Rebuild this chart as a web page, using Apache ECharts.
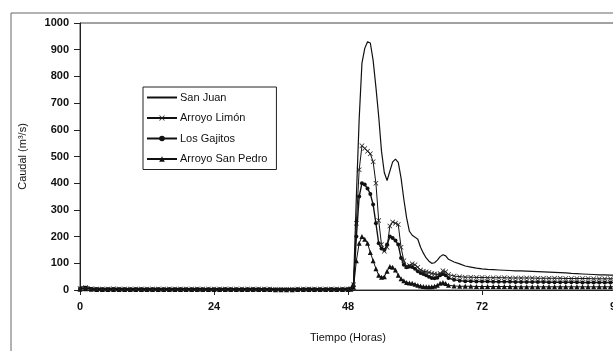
<!DOCTYPE html>
<html>
<head>
<meta charset="utf-8">
<script src="https://cdn.jsdelivr.net/npm/echarts@6/dist/echarts.min.js"></script>
<style>
  html, body { margin: 0; padding: 0; background: #fff; }
  #chart { width: 613px; height: 351px; }
</style>
</head>
<body>
<div id="chart"></div>
<script>
// time (hours)
const horas = [
  0, 1, 2, 3, 4, 5, 6, 7, 8, 9, 10, 11, 12, 13, 14, 15, 16, 17, 18, 19, 20, 21, 22, 23, 24,
  25, 26, 27, 28, 29, 30, 31, 32, 33, 34, 35, 36, 37, 38, 39, 40, 41, 42, 43, 44, 45, 46, 47, 48,
  48.5, 49, 49.5, 50, 50.5, 51, 51.5, 52, 52.5, 53, 53.5, 54, 54.5, 55, 55.5, 56, 56.5, 57, 57.5,
  58, 58.5, 59, 59.5, 60, 60.5, 61, 61.5, 62, 62.5, 63, 63.5, 64, 64.5, 65, 65.5, 66,
  67, 68, 69, 70, 71, 72, 73, 74, 75, 76, 77, 78, 79, 80, 81, 82, 83, 84, 85, 86, 87, 88, 89, 90,
  91, 92, 93, 94, 95, 96
];

const sanJuan = [
  10, 14, 8, 7, 6, 6, 7, 6, 6, 5, 6, 6, 5, 6, 6, 5, 6, 5, 6, 5, 5, 6, 5, 5, 5,
  5, 6, 5, 5, 5, 5, 6, 5, 5, 5, 4, 5, 5, 5, 5, 5, 6, 5, 5, 5, 6, 5, 6, 6,
  8, 30, 350, 640, 850, 905, 930, 925, 860, 760, 650, 520, 440, 410, 445, 480, 490, 478, 420,
  340, 270, 220, 205, 198, 190, 160, 138, 120, 108, 100, 102, 112, 125, 132, 128, 115,
  105, 98, 90, 86, 82, 79, 77, 76, 75, 74, 73, 72, 72, 71, 70, 69, 68, 67, 66, 65, 64, 62, 61, 60,
  59, 58, 57, 57, 56, 55
];

const arroyoLimon = [
  6, 9, 5, 4, 4, 4, 5, 4, 4, 4, 4, 4, 4, 4, 4, 4, 4, 4, 4, 4, 4, 4, 4, 4, 4,
  4, 4, 4, 4, 4, 4, 4, 4, 4, 4, 3, 3, 3, 3, 4, 4, 4, 4, 4, 4, 4, 4, 4, 4,
  5, 20, 250, 450, 540, 530, 520, 510, 480, 400, 260, 170, 145, 160, 240, 255, 250, 245, 160,
  110, 88, 92, 98, 95, 85, 75, 70, 68, 66, 62, 60, 58, 62, 72, 68, 58,
  52, 50, 48, 48, 47, 47, 46, 46, 46, 46, 45, 45, 45, 45, 45, 44, 44, 44, 44, 44, 43, 43, 43, 43,
  43, 42, 42, 42, 42, 42
];

const losGajitos = [
  5, 7, 4, 3, 3, 3, 3, 3, 3, 3, 3, 3, 3, 3, 3, 3, 3, 3, 3, 3, 3, 3, 3, 3, 3,
  3, 3, 3, 3, 3, 3, 3, 3, 3, 3, 2, 2, 2, 2, 3, 3, 3, 3, 3, 3, 3, 3, 3, 3,
  4, 15, 200, 350, 400, 395, 380, 360, 320, 250, 175, 155, 150, 170, 200, 195, 185, 170, 120,
  95, 85, 88, 86, 80, 70, 64, 60, 55, 50, 45, 44, 46, 55, 60, 55, 45,
  38, 35, 33, 33, 32, 32, 32, 31, 31, 31, 31, 30, 30, 30, 30, 30, 30, 29, 29, 29, 29, 29, 29, 28,
  28, 28, 28, 28, 28, 28
];

const arroyoSanPedro = [
  3, 5, 3, 2, 2, 2, 2, 2, 2, 2, 2, 2, 2, 2, 2, 2, 2, 2, 2, 2, 2, 2, 2, 2, 2,
  2, 2, 2, 2, 2, 2, 2, 2, 2, 2, 1, 1, 1, 1, 2, 2, 2, 2, 2, 2, 2, 2, 2, 2,
  3, 10, 110, 175, 200, 190, 175, 140, 110, 80, 55, 48, 50, 70, 88, 85, 75, 55, 42,
  35, 28, 26, 25, 22, 18, 15, 13, 12, 12, 12, 14, 18, 25, 28, 24, 18,
  15, 14, 14, 14, 13, 13, 13, 13, 13, 13, 13, 12, 12, 12, 12, 12, 12, 12, 12, 12, 12, 12, 12, 12,
  12, 12, 12, 12, 12, 12
];

const xTicks = [0, 24, 48, 72, 96];
const yTicks = [0, 100, 200, 300, 400, 500, 600, 700, 800, 900, 1000];

const xSymbol = 'path://M0,1L1,0L5,4L9,0L10,1L6,5L10,9L9,10L5,6L1,10L0,9L4,5Z';

function pares(vals) {
  return horas.map((h, i) => [h, vals[i]]);
}

const chart = echarts.init(document.getElementById('chart'), null, { renderer: 'canvas' });

const font = 'Liberation Sans, Arial, sans-serif';

const option = {
  backgroundColor: '#fff',
  animation: false,
  textStyle: { fontFamily: font, color: '#111' },
  grid: {
    left: 80, top: 23, right: -3, bottom: 61,
    outerBoundsMode: 'none',
    containLabel: false,
    show: true, borderColor: '#444', borderWidth: 1
  },
  graphic: [
    {
      type: 'polyline',
      shape: { points: [[11, 351], [11, 13], [613, 13]] },
      style: { stroke: '#666', lineWidth: 1, fill: null }
    }
  ],
  legend: {
    orient: 'vertical',
    left: 143, top: 87,
    backgroundColor: '#fff',
    borderColor: '#222', borderWidth: 1,
    padding: [5, 9, 5, 3],
    itemWidth: 30, itemHeight: 7, itemGap: 9.5,
    textStyle: { fontFamily: font, fontSize: 11, color: '#111', padding: [0, 0, 0, -2] },
    data: [
      { name: 'San Juan', itemStyle: { opacity: 0 } },
      'Arroyo Limón', 'Los Gajitos', 'Arroyo San Pedro'
    ]
  },
  xAxis: {
    type: 'value',
    min: 0, max: 96, interval: 24,
    name: 'Tiempo (Horas)',
    nameLocation: 'middle',
    nameGap: 42,
    nameTextStyle: { fontFamily: font, fontSize: 11, color: '#111' },
    axisLine: { lineStyle: { color: '#222', width: 1 } },
    axisTick: { show: true, inside: false, length: 5, lineStyle: { color: '#222' } },
    axisLabel: { fontFamily: font, fontSize: 11, color: '#111', margin: 11, fontWeight: 'bold',
      formatter: v => xTicks.includes(v) ? String(v) : '' },
    splitLine: { show: false }
  },
  yAxis: {
    type: 'value',
    min: 0, max: 1000, interval: 100,
    name: 'Caudal (m³/s)',
    nameLocation: 'middle',
    nameGap: 52,
    nameTextStyle: { fontFamily: font, fontSize: 11, color: '#111' },
    axisLine: { show: true, lineStyle: { color: '#222', width: 1 } },
    axisTick: { show: true, inside: false, length: 6, lineStyle: { color: '#222' } },
    axisLabel: { fontFamily: font, fontSize: 11, color: '#111', margin: 11, fontWeight: 'bold',
      formatter: v => yTicks.includes(v) ? String(v) : '' },
    splitLine: { show: false }
  },
  series: [
    {
      name: 'San Juan', type: 'line', data: pares(sanJuan),
      symbol: 'none',
      lineStyle: { color: '#111', width: 1.2 },
      itemStyle: { color: '#111' }, z: 5
    },
    {
      name: 'Arroyo Limón', type: 'line', data: pares(arroyoLimon),
      symbol: xSymbol, symbolSize: 5, showAllSymbol: true,
      lineStyle: { color: '#111', width: 1 },
      itemStyle: { color: '#222' }, z: 4
    },
    {
      name: 'Los Gajitos', type: 'line', data: pares(losGajitos),
      symbol: 'circle', symbolSize: 4, showAllSymbol: true,
      lineStyle: { color: '#111', width: 1.4 },
      itemStyle: { color: '#111' }, z: 3
    },
    {
      name: 'Arroyo San Pedro', type: 'line', data: pares(arroyoSanPedro),
      symbol: 'triangle', symbolSize: 5, showAllSymbol: true,
      lineStyle: { color: '#111', width: 1 },
      itemStyle: { color: '#111' }, z: 2
    }
  ]
};

chart.setOption(option);
</script>
</body>
</html>
